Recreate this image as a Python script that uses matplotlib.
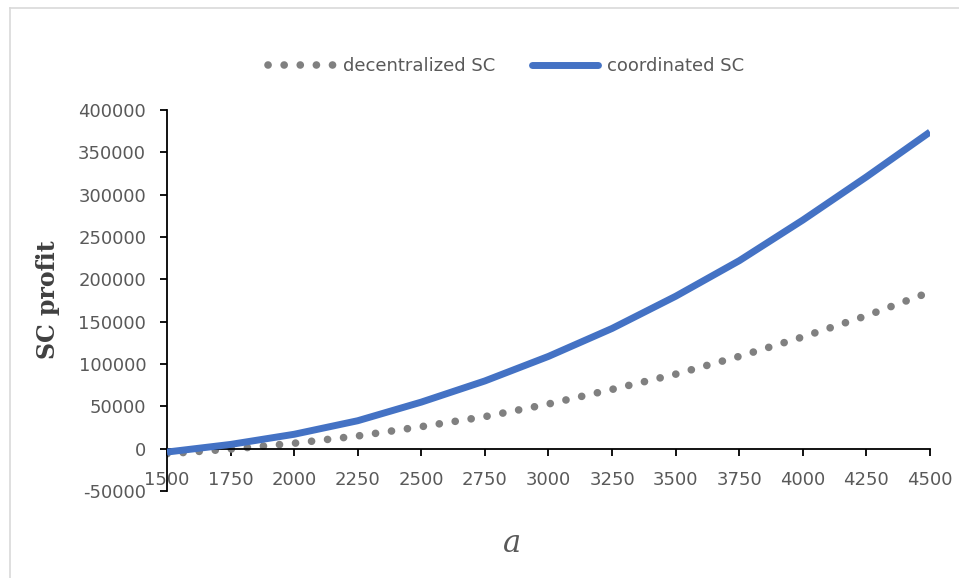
import matplotlib
matplotlib.use("Agg")
import matplotlib.pyplot as plt
from matplotlib.lines import Line2D

# data
a_values = [1500, 1750, 2000, 2250, 2500, 2750, 3000, 3250, 3500, 3750, 4000, 4250, 4500]
decentralized = [-6000, -500, 6400, 15000, 26000, 37800, 52800, 70000, 88000, 109000, 132000, 157000, 185000]
coordinated = [-4000, 5000, 17000, 33000, 55000, 80000, 109000, 142000, 180000, 222000, 270000, 321000, 374000]
y_ticks = [-50000, 0, 50000, 100000, 150000, 200000, 250000, 300000, 350000, 400000]
x_ticks = [1500, 1750, 2000, 2250, 2500, 2750, 3000, 3250, 3500, 3750, 4000, 4250, 4500]

text_gray = "#595959"
plt.rcParams["font.family"] = ["DejaVu Sans"]

fig = plt.figure(figsize=(9.59, 5.78), dpi=100)
ax = fig.add_axes([167 / 959, 1 - 491 / 578, 763 / 959, 381 / 578])

dot_style = (0, (0.01, 2.1))
ax.plot(a_values, coordinated, color="#4472C4", lw=5, solid_capstyle="butt",
        solid_joinstyle="round", label="coordinated SC", zorder=3)
ax.plot(a_values, decentralized, color="#808080", lw=5.5,
        linestyle=dot_style, dash_capstyle="round",
        label="decentralized SC", zorder=2)

ax.set_xlim(1500, 4500)
ax.set_ylim(-50000, 400000)
ax.set_xticks(x_ticks)
ax.set_yticks(y_ticks)
ax.set_xticklabels([str(v) for v in x_ticks])
ax.set_yticklabels([str(v) for v in y_ticks])

ax.spines["top"].set_visible(False)
ax.spines["right"].set_visible(False)
ax.spines["bottom"].set_position(("data", 0))
for s in ["left", "bottom"]:
    ax.spines[s].set_color("black")
    ax.spines[s].set_linewidth(1.3)
ax.tick_params(axis="x", direction="out", length=5, width=1.3, pad=11,
               labelsize=13, labelcolor=text_gray, color="black")
ax.tick_params(axis="y", direction="out", length=5, width=1.3, pad=10,
               labelsize=13, labelcolor=text_gray, color="black")

# legend in the order of the reference
handles = [
    Line2D([], [], color="#808080", lw=5.5, linestyle=dot_style, dash_capstyle="round"),
    Line2D([], [], color="#4472C4", lw=5, solid_capstyle="round"),
]
fig.legend(handles, ["decentralized SC", "coordinated SC"], loc="center",
           bbox_to_anchor=(506 / 959, 1 - 66 / 578), ncol=2, frameon=False,
           fontsize=13, labelcolor=text_gray, handlelength=3.7,
           handletextpad=0.45, columnspacing=2.0)

fig.text(48 / 959, 1 - 300 / 578, "SC profit", rotation=90, ha="center", va="center",
         fontsize=17, fontweight="bold", family="DejaVu Serif", color="#404040")
fig.text(512 / 959, 1 - 543 / 578, "a", ha="center", va="center", fontsize=22,
         fontstyle="italic", family="DejaVu Serif", color=text_gray)

# light chart-area border (top and left visible in reference)
fig.add_artist(Line2D([10 / 959, 1], [1 - 8 / 578, 1 - 8 / 578], color="#d9d9d9", lw=1.2))
fig.add_artist(Line2D([10 / 959, 10 / 959], [0, 1 - 8 / 578], color="#d9d9d9", lw=1.2))

fig.savefig("out.png", dpi=100)
